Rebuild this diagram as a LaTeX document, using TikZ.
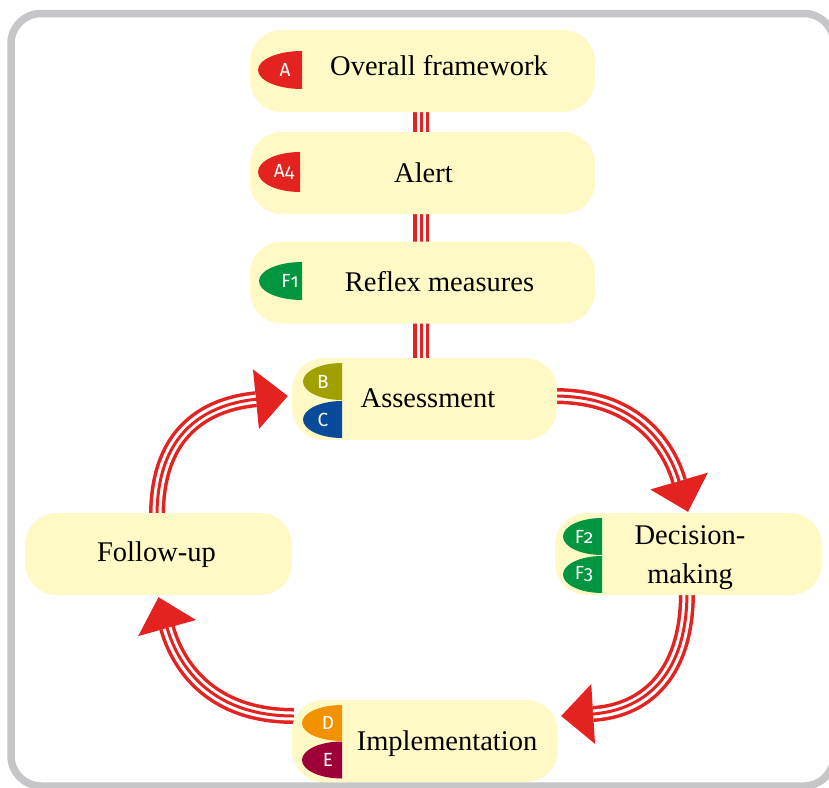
\documentclass[tikz,border=0pt]{standalone}
\usepackage{fontspec}
\setmainfont{Liberation Serif}
\newfontfamily\badgefont[Numbers=OldStyle]{Fira Sans}
\usetikzlibrary{arrows.meta,calc}
\definecolor{framegray}{RGB}{198,198,200}
\definecolor{boxfill}{RGB}{255,249,197}
\definecolor{cred}{RGB}{228,35,32}
\definecolor{cgreen}{RGB}{0,150,64}
\definecolor{colive}{RGB}{160,160,0}
\definecolor{cblue}{RGB}{10,74,154}
\definecolor{corange}{RGB}{243,146,0}
\definecolor{cmaroon}{RGB}{160,0,58}
\pgfdeclarelayer{back}
\pgfdeclarelayer{mid}
\pgfsetlayers{back,mid,main}
\tikzset{
  pill/.style={rectangle, rounded corners=32pt, fill=boxfill, draw=none,
    minimum height=82pt, inner sep=0pt},
  lbl/.style={font=\fontsize{28.5}{39}\selectfont, inner sep=0pt},
  badgetext/.style={font=\badgefont\fontsize{19}{22}\selectfont, text=white, inner sep=0pt},
  redouter/.style={draw=cred, line width=16pt},
  whitemid/.style={draw=white, line width=9pt},
  redinner/.style={draw=cred, line width=3pt},
  bigtip/.style={-{Triangle[width=60pt,length=32pt,line width=0pt]}}
}
\newcommand\tripleline[1]{%
  \draw[redouter] #1; \draw[whitemid] #1; \draw[redinner] #1;}
\newcommand\triplearrow[1]{%
  \draw[redouter,bigtip] #1;
  \draw[whitemid,shorten >=32pt] #1;
  \draw[redinner,shorten >=30pt] #1;}
% name, right x, centre y, x radius, y radius, colour, text x, text
\newcommand\badge[8]{%
  \fill[#6] (#2,#3+#5) arc[start angle=90,end angle=270,x radius=#4,y radius=#5] -- cycle;
  \node[badgetext] (#1) at (#7,#3) {#8};}
\begin{document}
\begin{tikzpicture}[x=1pt,y=-1pt]
\useasboundingbox (0,0) rectangle (829,787);
\begin{pgfonlayer}{back}
  \fill[white] (0,0) rectangle (829,787);
\end{pgfonlayer}
\draw[framegray, line width=7.5pt, rounded corners=30pt] (11,13.5) rectangle (834,786);

% boxes
\node[pill, minimum width=345pt] (overall) at (422.5,71) {};
\node[pill, minimum width=345pt] (alert) at (422.5,173) {};
\node[pill, minimum width=345pt] (reflex) at (422.5,282.5) {};
\node[pill, minimum width=265pt] (assess) at (424.5,399) {};
\node[pill, minimum width=267pt] (decision) at (688.5,554) {};
\node[pill, minimum width=267pt] (follow) at (158.5,554) {};
\node[pill, minimum width=266pt] (impl) at (425,741) {};

% labels
\node[lbl, anchor=base] (toverall) at (439,75) {Overall framework};
\node[lbl, anchor=base] (talert) at (423.5,182) {Alert};
\node[lbl, anchor=base] (treflex) at (439.5,291) {Reflex measures};
\node[lbl, anchor=base] (tassess) at (428,407) {Assessment};
\node[lbl, align=center] (tdecision) at (690,558) {Decision-\\making};
\node[lbl, anchor=base] (tfollow) at (156.5,561) {Follow-up};
\node[lbl, anchor=base] (timpl) at (447,750) {Implementation};

% badges
\badge{bA}{302}{70}{44}{19}{cred}{285}{A}
\badge{bAfour}{300}{172}{42}{20}{cred}{284}{A4}
\badge{bFone}{302}{281}{43}{19}{cgreen}{290}{F1}
\badge{bB}{342}{381.5}{39}{18.5}{colive}{323}{B}
\badge{bC}{342}{419.5}{39}{18.5}{cblue}{323}{C}
\badge{bFtwo}{602}{536.5}{39}{18.5}{cgreen}{584}{F2}
\badge{bFthree}{602}{574.5}{39}{18.5}{cgreen}{584}{F3}
\badge{bD}{342}{723}{40}{18}{corange}{328}{D}
\badge{bE}{342}{760}{40}{18.5}{cmaroon}{328}{E}

% connectors
\begin{pgfonlayer}{mid}
  \tripleline{($(overall.south)+(-1.5,-3)$) -- ($(alert.north)+(-1.5,3)$)}
  \tripleline{($(alert.south)+(-1.5,-3)$) -- ($(reflex.north)+(-1.5,3)$)}
  \tripleline{($(reflex.south)+(-1.5,-3)$) -- ($(assess.north)+(-3.5,3)$)}
  \triplearrow{($(assess.east)+(-3,-3)$) .. controls (640,396) and (670,450) .. ($(decision.north)+(-0.5,-1)$)}
  \triplearrow{($(decision.south)+(-1.5,-3)$) .. controls (687,680) and (640,711) .. ($(impl.east)+(3,-25)$)}
  \triplearrow{($(impl.west)+(2,-25)$) .. controls (206,716) and (176,660) .. ($(follow.south)+(0,2)$)}
  \triplearrow{($(follow.north)+(-1.5,3)$) .. controls (157,430) and (208,404) .. ($(assess.west)+(-4,-3)$)}
\end{pgfonlayer}
\end{tikzpicture}
\end{document}
